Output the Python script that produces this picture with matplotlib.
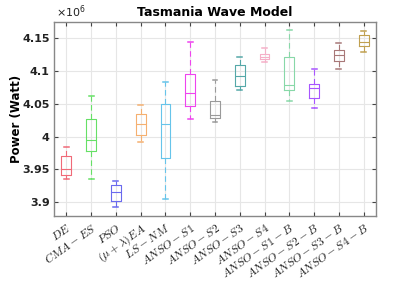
import numpy as np
import matplotlib.pyplot as plt
from matplotlib.ticker import FixedLocator, FuncFormatter

plt.rcParams['mathtext.fontset'] = 'cm'

# box statistics, in units of 1e6 Watt
labels = [r'$DE$', r'$CMA-ES$', r'$PSO$', r'$(\mu+\lambda)EA$', r'$LS-NM$',
          r'$ANSO-S1$', r'$ANSO-S2$', r'$ANSO-S3$', r'$ANSO-S4$',
          r'$ANSO-S1-B$', r'$ANSO-S2-B$', r'$ANSO-S3-B$', r'$ANSO-S4-B$']
whislo = [3.935, 3.935, 3.893, 3.992, 3.905, 4.027, 4.0225, 4.071, 4.114, 4.054, 4.044, 4.104, 4.129]
q1 = [3.941, 3.978, 3.902, 4.003, 3.968, 4.047, 4.028, 4.077, 4.118, 4.071, 4.059, 4.115, 4.138]
med = [3.951, 3.995, 3.915, 4.019, 4.020, 4.067, 4.033, 4.092, 4.122, 4.079, 4.074, 4.125, 4.145]
q3 = [3.971, 4.027, 3.927, 4.035, 4.050, 4.095, 4.054, 4.109, 4.126, 4.122, 4.080, 4.133, 4.155]
whishi = [3.985, 4.0625, 3.933, 4.048, 4.083, 4.145, 4.086, 4.1215, 4.135, 4.163, 4.104, 4.143, 4.161]
colors = ['#f06a78', '#66e066', '#6a6aee', '#f5b070', '#66c4ea', '#ee44ee', '#9a9a9a',
          '#55a8a8', '#f5b0c8', '#88d8a8', '#a855ff', '#a87878', '#c0a050']

stats = []
for i in range(len(labels)):
    stats.append(dict(whislo=whislo[i], q1=q1[i], med=med[i], q3=q3[i], whishi=whishi[i], fliers=[]))

fig = plt.figure(figsize=(4.15, 2.85), dpi=100)
ax = fig.add_axes([54/415, 1 - 216/285, (376-54)/415, (216-22)/285])

pos = np.arange(1, len(labels) + 1)
bp = ax.bxp(stats, positions=pos, widths=0.4, patch_artist=False, manage_ticks=False)
for i, c in enumerate(colors):
    bp['boxes'][i].set(color=c, linewidth=0.8)
    bp['medians'][i].set(color=c, linewidth=0.8)
    for w in bp['whiskers'][2*i:2*i+2]:
        w.set(color=c, linewidth=0.8, linestyle=(0, (5, 3)))
    for cp in bp['caps'][2*i:2*i+2]:
        cp.set(color=c, linewidth=1.1)
        xd = cp.get_xdata()
        m = np.mean(xd)
        cp.set_xdata([m - 0.1, m + 0.1])

ax.set_xlim(0.5, 13.5)
ax.set_ylim(3.879, 4.175)
ax.set_xticks(pos)
ax.set_xticklabels(labels, rotation=35, ha='right', rotation_mode='anchor', fontsize=8.5, color='#222222')
ax.yaxis.set_major_locator(FixedLocator([3.9, 3.95, 4.0, 4.05, 4.1, 4.15]))
ax.yaxis.set_major_formatter(FuncFormatter(lambda v, p: '%g' % round(v, 2)))
for t in ax.get_yticklabels():
    t.set_fontweight('bold')
    t.set_fontsize(8)
    t.set_color('#222222')
ax.tick_params(axis='both', direction='in', length=3, top=True, right=True, color='#444444')
ax.tick_params(axis='x', pad=4)
ax.tick_params(axis='y', pad=3)
ax.grid(True, color='#e6e6e6', linewidth=0.8)
ax.set_axisbelow(True)
for s in ax.spines.values():
    s.set_color('#888888')
    s.set_linewidth(1.0)

ax.set_title('Tasmania Wave Model', fontsize=9, fontweight='bold', pad=4)
ax.set_ylabel('Power (Watt)', fontsize=8.5, fontweight='bold')
ax.yaxis.set_label_coords(-0.097, 0.5)
ax.text(0.005, 1.01, r'$\mathregular{\times10^{6}}$', transform=ax.transAxes, fontsize=8,
        ha='left', va='bottom', color='#222222')

fig.savefig('out.png', dpi=100)
